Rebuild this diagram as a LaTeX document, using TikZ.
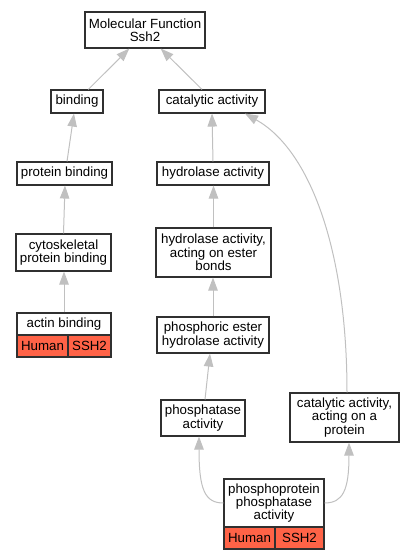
\documentclass[tikz,border=0pt]{standalone}
\usepackage{fontspec}
\setmainfont{Liberation Sans}
\usetikzlibrary{arrows.meta}
\definecolor{edgegray}{HTML}{C0C0C0}
\definecolor{boxline}{HTML}{303030}
\definecolor{tomatofill}{HTML}{FF6347}
\begin{document}
\begin{tikzpicture}[x=1pt,y=-1pt,
  box/.style={draw=boxline,line width=1.1pt,fill=white,rectangle,inner sep=0pt,align=center,
    font=\fontsize{13.3}{13.3}\selectfont},
  cell/.style={box,fill=tomatofill},
  edge/.style={draw=edgegray,line width=1pt,-{Triangle[length=13pt,width=9.5pt,fill=edgegray]}}]
\useasboundingbox (0,0) rectangle (413,560);
% nodes
\node[box,minimum width=120pt,minimum height=36pt] (mf) at (145,30) {Molecular Function\\Ssh2};
\node[box,minimum width=52pt,minimum height=23pt] (bind) at (77,101.5) {binding};
\node[box,minimum width=106pt,minimum height=23pt] (cat) at (212,101.5) {catalytic activity};
\node[box,minimum width=95pt,minimum height=23pt] (pb) at (64.5,173.5) {protein binding};
\node[box,minimum width=112pt,minimum height=23pt] (hyd) at (213,173.5) {hydrolase activity};
\node[box,minimum width=95pt,minimum height=37pt] (cyto) at (63.5,252.5) {cytoskeletal\\protein binding};
\node[box,minimum width=115pt,minimum height=49pt] (hest) at (213.5,252.5) {hydrolase activity,\\acting on ester\\bonds};
\node[box,minimum width=94pt,minimum height=22pt] (actin) at (64,324) {actin binding};
\node[cell,minimum width=51pt,minimum height=22pt] (actinh) at (42.5,346) {Human};
\node[cell,minimum width=43pt,minimum height=22pt] (actins) at (89.5,346) {SSH2};
\node[box,minimum width=112pt,minimum height=36pt] (phos) at (213,335) {phosphoric ester\\hydrolase activity};
\node[box,minimum width=84pt,minimum height=36pt] (ptase) at (203,418) {phosphatase\\activity};
\node[box,minimum width=109pt,minimum height=49pt] (capro) at (344.5,417.5) {catalytic activity,\\acting on a\\protein};
\node[box,minimum width=100pt,minimum height=48pt] (ppp) at (274,503) {phosphoprotein\\phosphatase\\activity};
\node[cell,minimum width=51pt,minimum height=22pt] (ppph) at (249.5,538) {Human};
\node[cell,minimum width=49pt,minimum height=22pt] (ppps) at (299.5,538) {SSH2};
% edges
\draw[edge] ([xshift=11.3pt]bind.north) -- ([xshift=-15.7pt]mf.south);
\draw[edge] ([xshift=-10pt]cat.north) -- ([xshift=15.7pt]mf.south);
\draw[edge] ([xshift=2.5pt]pb.north) -- ([xshift=-3pt]bind.south);
\draw[edge] (hyd.north) -- (cat.south);
\draw[edge] (cyto.north) -- ([xshift=0.5pt]pb.south);
\draw[edge] (hest.north) -- ([xshift=0.5pt]hyd.south);
\draw[edge] (actin.north) -- ([xshift=0.5pt]cyto.south);
\draw[edge] (phos.north) -- ([xshift=-0.5pt]hest.south);
\draw[edge] ([xshift=2pt]ptase.north) -- ([xshift=-3pt]phos.south);
\draw[edge] ([xshift=2.5pt]capro.north) .. controls (347,250) and (310,150) .. ([xshift=33pt]cat.south);
\draw[edge] (ppp.west) .. controls (205,503) and (199,490) .. ([xshift=-4pt]ptase.south);
\draw[edge] (ppp.east) .. controls (343,503) and (349,490) .. ([xshift=4.5pt]capro.south);
\end{tikzpicture}
\end{document}
